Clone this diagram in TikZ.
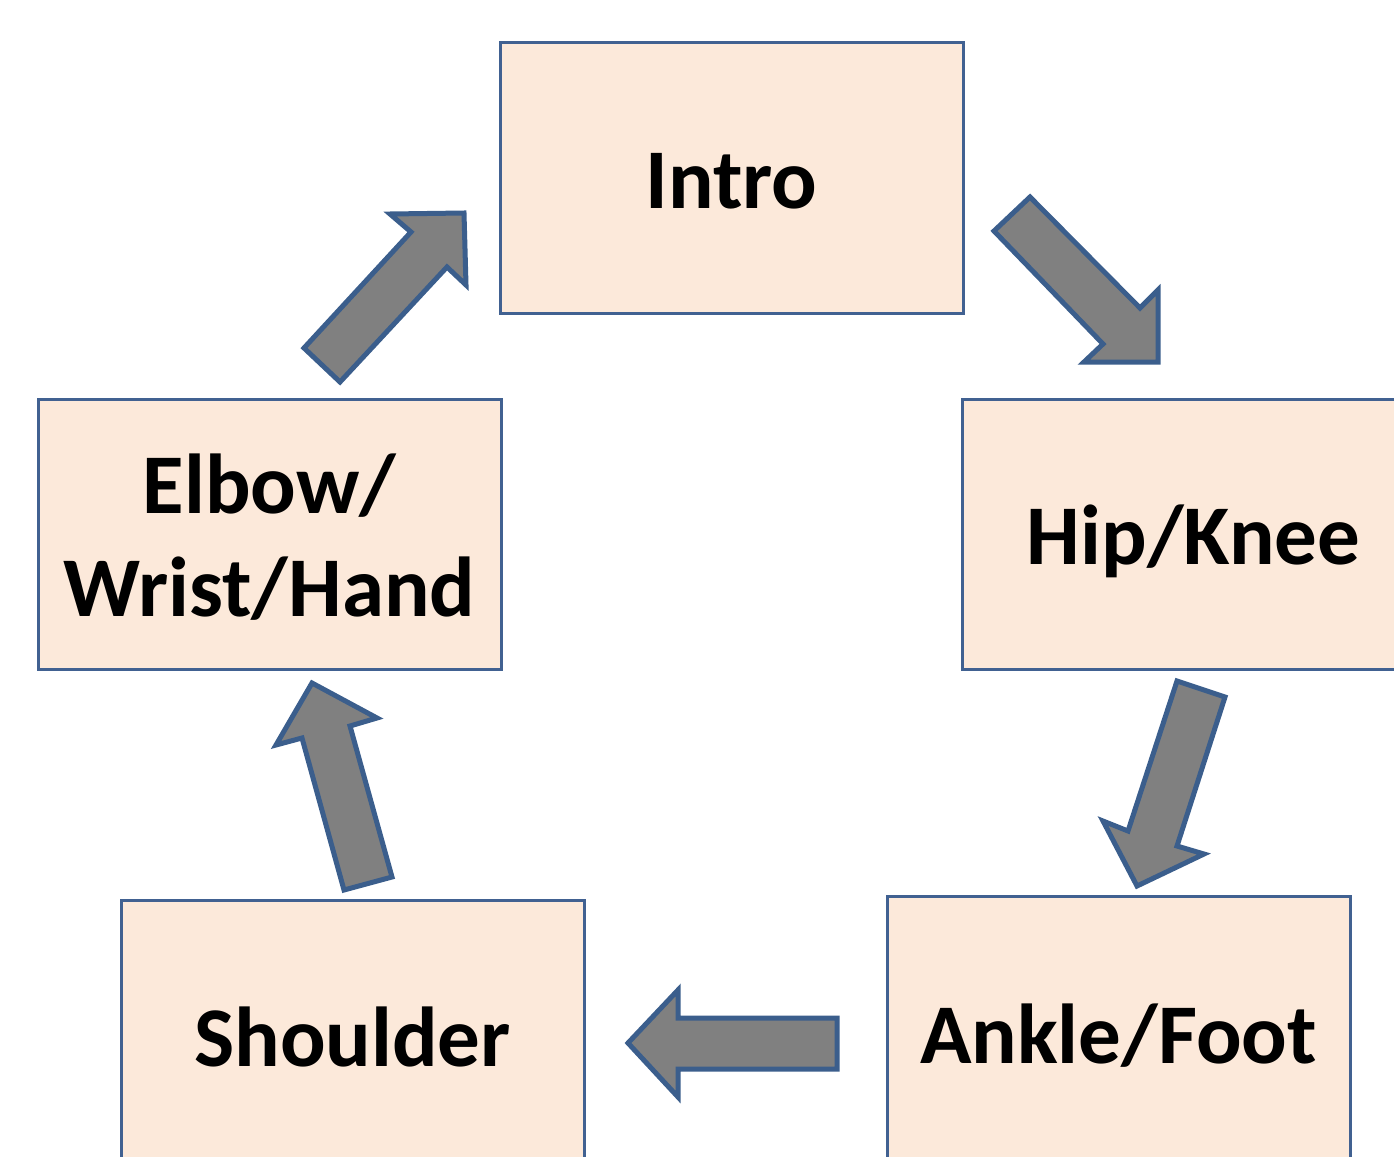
\documentclass[tikz,border=0pt]{standalone}
\usepackage{fontspec}
\setmainfont{Carlito}
\definecolor{boxfill}{RGB}{252,233,218}
\definecolor{boxline}{RGB}{65,97,145}
\definecolor{arrfill}{RGB}{128,128,128}
\definecolor{arrline}{RGB}{59,94,140}
\begin{document}
\begin{tikzpicture}[x=1pt,y=-1pt,
  stage/.style={draw=boxline,line width=3pt,fill=boxfill,minimum width=463pt,minimum height=270pt,inner sep=0pt},
  stagetext/.style={inner sep=0pt,align=center,font=\fontsize{85}{103}\selectfont\bfseries},
  blockarrow/.style={draw=arrline,line width=5pt,fill=arrfill,line join=miter}]
\useasboundingbox (0,0) rectangle (1394,1156);
\node[stage] (intro) at (731.5,178) {};
\node[stage] (hip) at (1193.5,534.5) {};
\node[stage] (elbow) at (269.5,534.5) {};
\node[stage] (shoulder) at (352.5,1035) {};
\node[stage] (ankle) at (1118.5,1031) {};
\node[stagetext] (introt) at (731.5,181) {Intro};
\node[stagetext] (hipt) at (1193.5,541) {Hip/Knee};
\node[stagetext] (elbowt) at (269.5,537) {Elbow/\\Wrist/Hand};
\node[stagetext] (shouldert) at (352.5,1037) {Shoulder};
\node[stagetext] (anklet) at (1118.5,1036) {Ankle/Foot};
% Intro -> Hip/Knee
\draw[blockarrow] (1030,197) -- (1140,308) -- (1158,290) -- (1158,362) -- (1084,362) -- (1103,344) -- (994,231) -- cycle;
% Hip/Knee -> Ankle/Foot
\draw[blockarrow] (1177,681) -- (1225,697) -- (1177,846) -- (1204,854) -- (1137,886) -- (1103,821) -- (1128,831) -- cycle;
% Ankle/Foot -> Shoulder
\draw[blockarrow] (837,1018) -- (837,1069) -- (678,1069) -- (678,1097) -- (628,1043) -- (678,990) -- (678,1018) -- cycle;
% Shoulder -> Elbow
\draw[blockarrow] (392,877) -- (344,890) -- (302,738) -- (276,745) -- (312,683) -- (377,718) -- (350,726) -- cycle;
% Elbow -> Intro
\draw[blockarrow] (340,382) -- (304,348) -- (411,232) -- (390,214) -- (464,213) -- (466,285) -- (447,267) -- cycle;
\end{tikzpicture}
\end{document}
